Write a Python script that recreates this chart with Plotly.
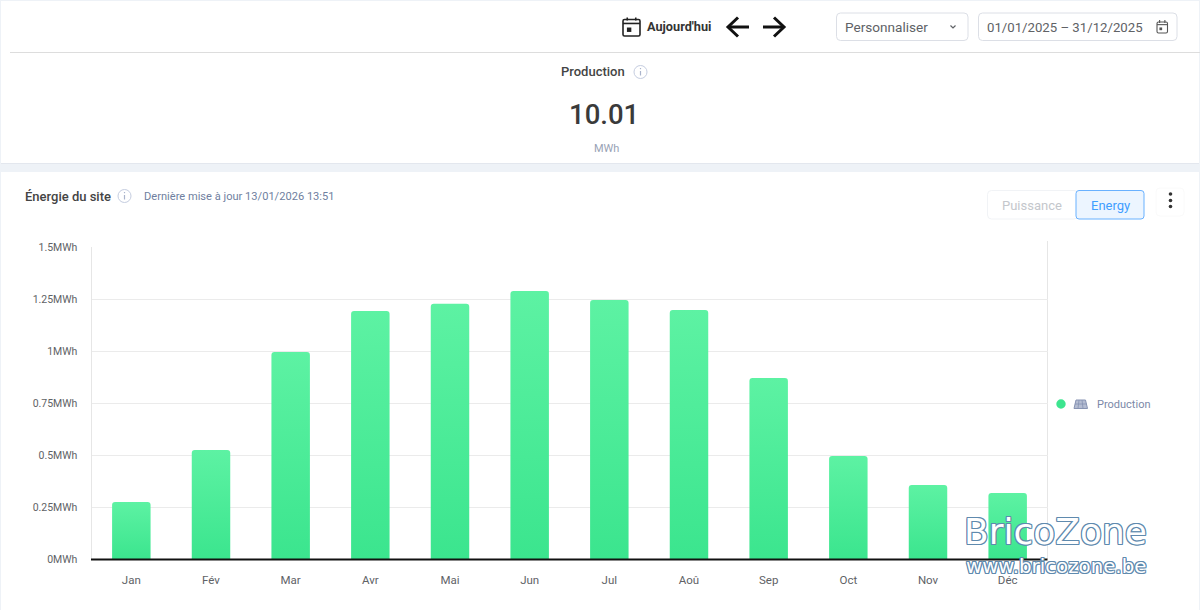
import plotly.graph_objects as go

# Monthly site energy for 2025
months = ["Jan", "Fév", "Mar", "Avr", "Mai", "Jun", "Jul", "Aoû", "Sep", "Oct", "Nov", "Déc"]
production_mwh = [0.276, 0.526, 0.996, 1.193, 1.227, 1.289, 1.246, 1.198, 0.871, 0.497, 0.358, 0.319]
y_tick_values = [0, 0.25, 0.5, 0.75, 1, 1.25, 1.5]
y_tick_labels = ["0MWh", "0.25MWh", "0.5MWh", "0.75MWh", "1MWh", "1.25MWh", "1.5MWh"]

W, H = 1200, 610
FONT = "Roboto"
PAGE_BG = "#eef2f7"
GREEN = "#3de58f"


def X(px):
    return px / W


def Y(py):
    return 1 - py / H


shapes = []
texts = []


def rect(x0, y0, x1, y1, fill="rgba(0,0,0,0)", line="rgba(0,0,0,0)", width=1):
    shapes.append(dict(type="rect", xref="paper", yref="paper", x0=X(x0), x1=X(x1), y0=Y(y0), y1=Y(y1),
                       fillcolor=fill, line=dict(color=line, width=width), layer="below"))


def path_from(points, close=False):
    body = " L".join(f"{X(a):.5f},{Y(b):.5f}" for a, b in points)
    return "M" + body + (" Z" if close else "")


def stroke(points, color, width=1.0, close=False, fill=None, layer="above"):
    shapes.append(dict(type="path", xref="paper", yref="paper", path=path_from(points, close),
                       fillcolor=fill, line=dict(color=color, width=width), layer=layer))


def round_box(x0, y0, x1, y1, r, fill="rgba(0,0,0,0)", line="rgba(0,0,0,0)", width=1, layer="below"):
    p = (f"M{X(x0 + r)},{Y(y0)} L{X(x1 - r)},{Y(y0)} Q{X(x1)},{Y(y0)} {X(x1)},{Y(y0 + r)} "
         f"L{X(x1)},{Y(y1 - r)} Q{X(x1)},{Y(y1)} {X(x1 - r)},{Y(y1)} "
         f"L{X(x0 + r)},{Y(y1)} Q{X(x0)},{Y(y1)} {X(x0)},{Y(y1 - r)} "
         f"L{X(x0)},{Y(y0 + r)} Q{X(x0)},{Y(y0)} {X(x0 + r)},{Y(y0)} Z")
    shapes.append(dict(type="path", xref="paper", yref="paper", path=p, fillcolor=fill,
                       line=dict(color=line, width=width), layer=layer))


def circle(cx, cy, r, fill="rgba(0,0,0,0)", line="rgba(0,0,0,0)", width=1):
    shapes.append(dict(type="circle", xref="paper", yref="paper", x0=X(cx - r), x1=X(cx + r),
                       y0=Y(cy + r), y1=Y(cy - r), fillcolor=fill, line=dict(color=line, width=width)))


def label(px, py, text, size, color, anchor="left", weight=400, family=FONT, shadow=None):
    font = dict(family=family, size=size, color=color, weight=weight)
    if shadow:
        font["shadow"] = shadow
    texts.append(dict(xref="paper", yref="paper", x=X(px), y=Y(py), text=text, showarrow=False,
                      xanchor=anchor, yanchor="middle", font=font, borderpad=0, borderwidth=0))


def info_icon(cx, cy):
    circle(cx, cy, 6.5, line="#c5cde0", width=1)
    stroke([(cx, cy - 1), (cx, cy + 3.5)], "#aab4cc", 1.2)
    stroke([(cx, cy - 4), (cx, cy - 2.8)], "#aab4cc", 1.2)


def calendar_icon(x0, y0, x1, y1, color, width):
    round_box(x0, y0, x1, y1, 1.5, line=color, width=width, layer="above")
    head = y0 + (y1 - y0) * 0.24
    stroke([(x0, head), (x1, head)], color, width)
    tab = (x1 - x0) * 0.25
    stroke([(x0 + tab, y0 - 2), (x0 + tab, y0 + 1)], color, width)
    stroke([(x1 - tab, y0 - 2), (x1 - tab, y0 + 1)], color, width)
    s = (x1 - x0) * 0.13
    mx, my = x0 + (x1 - x0) * 0.36, y0 + (y1 - y0) * 0.62
    rect(mx - s, my - s, mx + s, my + s, fill=color)
    shapes[-1]["layer"] = "above"


# Page background and the two white cards
rect(0, 0, W, H, fill=PAGE_BG)
rect(1, 1, 1199, 164, fill="#e3e7ee")
rect(1, 1, 1199, 163, fill="#ffffff")
rect(1, 172, 1199, 610, fill="#ffffff")
stroke([(10, 52.5), (1200, 52.5)], "#dddddd", 1, layer="below")

# Top toolbar
calendar_icon(623, 19.5, 640, 36, "#222222", 1.6)
label(647, 26.5, "Aujourd'hui", 12.7, "#333333", weight=700)
stroke([(749, 27), (728, 27)], "#111111", 3)
stroke([(738, 17.5), (728, 27), (738, 36.5)], "#111111", 3)
stroke([(763, 27), (784, 27)], "#111111", 3)
stroke([(774, 17.5), (784, 27), (774, 36.5)], "#111111", 3)
round_box(836.5, 13, 968, 40.5, 4, fill="#ffffff", line="#dcdfe6")
label(845, 26.5, "Personnaliser", 13.6, "#606266")
stroke([(950.5, 25.5), (953, 28), (955.5, 25.5)], "#606266", 1.2)
round_box(978.5, 13, 1177, 40.5, 4, fill="#ffffff", line="#dcdfe6")
label(987, 27.5, "01/01/2025 – 31/12/2025", 13.2, "#606266")
calendar_icon(1157, 22, 1167.5, 33, "#555555", 1.1)

# Production summary
label(561, 71.5, "Production", 13, "#444444", weight=500)
info_icon(640.5, 72)
label(604, 114, "10.01", 27.5, "#3a3a3a", anchor="center", weight=500)
label(606, 148, "MWh", 11, "#98a2b5", anchor="center")

# Chart card header
label(25, 196, "Énergie du site", 13, "#444444", weight=500)
info_icon(124.5, 196)
label(144, 196.5, "Dernière mise à jour 13/01/2026 13:51", 11.1, "#6f7f9f")
round_box(987.5, 190.5, 1078, 219, 4, fill="#ffffff", line="#f1f3f6")
label(1032, 205, "Puissance", 13, "#c4c7cc", anchor="center")
round_box(1076, 190.5, 1144, 219, 3, fill="#ecf5ff", line="#69b1ff")
label(1110, 205, "Energy", 13, "#409eff", anchor="center")
round_box(1156, 188, 1184, 216, 4, fill="#ffffff", line="#fafafa")
for dot_y in (194, 200.5, 206.5):
    circle(1170.5, dot_y, 1.8, fill="#333333")

# Frame line on the right of the plot area and the heavy baseline
stroke([(1047.5, 241), (1047.5, 559)], "#e6e6e6", 1, layer="below")
stroke([(91, 559.5), (1047.5, 559.5)], "#111111", 2)

# Legend entry
circle(1061, 404, 4.7, fill=GREEN)
panel_color = "#8793b3"
stroke([(1076, 400), (1085.5, 400), (1087.5, 408.5), (1074, 408.5)], panel_color, 1, close=True, fill="#b5bdd2")
stroke([(1075, 404), (1086.5, 404)], panel_color, 0.8)
for top, bottom in ((1079, 1078), (1082, 1083)):
    stroke([(top, 400), (bottom, 408.5)], panel_color, 0.8)
label(1097, 404, "Production", 11, "#7c89a8")

# Outlined site watermark
outline = ", ".join(f"{a}px {b}px 0 #5f8aae" for a in (-1, 0, 1) for b in (-1, 0, 1) if a or b)
label(1055.5, 531.5, "BricoZone", 36, "#ffffff", anchor="center", family="DejaVu Sans", shadow=outline)
label(1056, 566, "www.bricozone.be", 19.8, "#ffffff", anchor="center", family="DejaVu Sans", shadow=outline)

fig = go.Figure(
    go.Bar(x=months, y=production_mwh, name="Production", width=0.483,
           marker=dict(color=GREEN, line=dict(width=0)))
)

fig.update_layout(
    width=W, height=H, autosize=False,
    margin=dict(l=0, r=0, t=0, b=0, autoexpand=False),
    paper_bgcolor=PAGE_BG, plot_bgcolor="rgba(0,0,0,0)",
    showlegend=False, barcornerradius=3,
    font=dict(family=FONT, color="#606266"),
    shapes=shapes, annotations=texts,
    xaxis=dict(domain=[X(91.5), X(1047.5)], range=[-0.5, 11.5], fixedrange=True,
               showgrid=False, showline=False,
               ticks="", ticklabelstandoff=12, tickfont=dict(size=11.5, color="#606266")),
    yaxis=dict(domain=[Y(559.5), Y(247)], range=[0, 1.5], fixedrange=True,
               tickvals=y_tick_values, ticktext=y_tick_labels,
               showgrid=True, gridcolor="#ebebeb", gridwidth=1, zeroline=False,
               showline=True, linecolor="#e6e6e6", linewidth=1,
               ticks="", ticklabelstandoff=11, tickfont=dict(size=10.5, color="#606266")),
)

# Vertical green fade on each bar, applied to the rendered SVG
gradient_js = """
var svg = document.querySelector('.main-svg');
var ns = 'http://www.w3.org/2000/svg';
var defs = svg.querySelector('defs') || svg.appendChild(document.createElementNS(ns, 'defs'));
var grad = document.createElementNS(ns, 'linearGradient');
grad.setAttribute('id', 'barFade');
grad.setAttribute('x1', '0'); grad.setAttribute('y1', '0');
grad.setAttribute('x2', '0'); grad.setAttribute('y2', '1');
[['0%', '#5df2a3'], ['100%', '#3be58e']].forEach(function (s) {
  var stop = document.createElementNS(ns, 'stop');
  stop.setAttribute('offset', s[0]);
  stop.setAttribute('stop-color', s[1]);
  grad.appendChild(stop);
});
defs.appendChild(grad);
document.querySelectorAll('.barlayer .point path').forEach(function (p) {
  p.style.fill = 'url(#barFade)';
});
"""

fig.write_html("out.html", config={"displayModeBar": False, "staticPlot": True}, post_script=gradient_js)
